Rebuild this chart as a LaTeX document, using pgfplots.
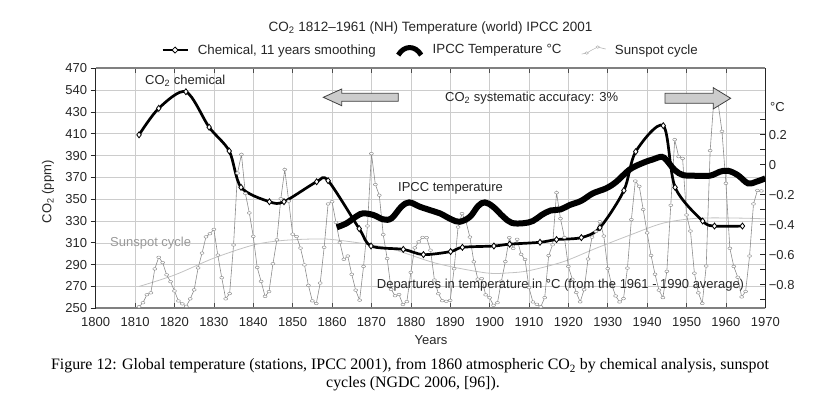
\documentclass[border=0pt]{standalone}
\usepackage{fontspec}
\setmainfont{Liberation Sans}
\newfontfamily\capfont{Liberation Serif}
\usepackage{pgfplots}
\pgfplotsset{compat=1.18}
\usepackage{pgfplotstable}

\definecolor{gridgray}{gray}{0.80}
\definecolor{framegray}{gray}{0.50}
\definecolor{sungray}{gray}{0.55}
\definecolor{trendgray}{gray}{0.76}
\definecolor{arrowfill}{gray}{0.80}

\pgfplotstableread{
Y S
1811 1.4
1812 5.0
1813 12.2
1814 13.9
1815 35.4
1816 45.8
1817 41.1
1818 30.1
1819 23.9
1820 15.6
1821 6.6
1822 4.0
1823 1.8
1824 8.5
1825 16.6
1826 36.3
1827 49.6
1828 64.2
1829 67.0
1830 70.9
1831 47.8
1832 27.5
1833 8.5
1834 13.2
1835 56.9
1836 121.5
1837 138.3
1838 103.2
1839 85.7
1840 64.6
1841 36.7
1842 24.2
1843 10.7
1844 15.0
1845 40.1
1846 61.5
1847 98.5
1848 124.7
1849 96.3
1850 66.6
1851 64.5
1852 54.1
1853 39.0
1854 20.6
1855 6.7
1856 4.3
1857 22.7
1858 54.8
1859 93.8
1860 95.8
1861 77.2
1862 59.1
1863 44.0
1864 47.0
1865 30.5
1866 16.3
1867 7.3
1868 37.6
1869 74.0
1870 139.0
1871 111.2
1872 101.6
1873 66.2
1874 44.7
1875 17.0
1876 11.3
1877 12.4
1878 3.4
1879 6.0
1880 32.3
1881 54.3
1882 59.7
1883 63.7
1884 63.5
1885 52.2
1886 25.4
1887 13.1
1888 6.8
1889 6.3
1890 7.1
1891 35.6
1892 73.0
1893 85.1
1894 78.0
1895 64.0
1896 41.8
1897 26.2
1898 26.7
1899 12.1
1900 9.5
1901 2.7
1902 5.0
1903 24.4
1904 42.0
1905 63.5
1906 53.8
1907 62.0
1908 48.5
1909 43.9
1910 18.6
1911 5.7
1912 3.6
1913 1.4
1914 9.6
1915 47.4
1916 57.1
1917 103.9
1918 80.6
1919 63.6
1920 37.6
1921 26.1
1922 14.2
1923 5.8
1924 16.7
1925 44.3
1926 63.9
1927 69.0
1928 77.8
1929 64.9
1930 35.7
1931 21.2
1932 11.1
1933 5.7
1934 8.7
1935 36.1
1936 79.7
1937 114.4
1938 109.6
1939 88.8
1940 67.8
1941 47.5
1942 30.6
1943 16.3
1944 9.6
1945 33.2
1946 92.6
1947 151.6
1948 136.3
1949 134.7
1950 83.9
1951 69.4
1952 31.5
1953 13.9
1954 4.4
1955 38.0
1956 141.7
1957 190.2
1958 184.8
1959 159.0
1960 112.3
1961 53.9
1962 37.6
1963 27.9
1964 10.2
1965 15.1
1966 47.0
1967 93.8
1968 105.9
1969 105.5
}\sunspot

\pgfplotstableread{
Y V
1811 270
1820 280.5
1830 296
1840 308
1847 312
1855 313.5
1861 312.7
1874 305.5
1886.5 291.2
1899 282.5
1905 282.5
1910 284.5
1918.7 292.7
1927 305
1935.7 317.2
1944 328
1952.6 332.5
1963 332.7
1970 332
}\trend

\pgfplotstableread{
Y C
1811 409
1816 433.3
1822.9 448.5
1828.8 416
1833.9 394.2
1836.9 360.9
1844.1 347.7
1847.8 347.7
1856.1 366
1859 367
1866.9 323
1869.9 307.1
1878.1 304
1883.2 299.2
1890.1 302
1893.1 305.9
1901.1 307.1
1905.1 308.8
1912.8 310.5
1917 313
1923.3 314.8
1928 323.9
1934.1 358
1937.1 393.6
1944.1 417.4
1947.1 360.9
1954.1 330
1957.1 325.4
1964.2 325.4
}\chem

\pgfplotstableread{
Y T
1861.2 -0.417
1863.7 -0.39
1866.3 -0.342
1867.9 -0.324
1870.5 -0.335
1873 -0.364
1875.1 -0.357
1877.6 -0.28
1879.6 -0.251
1882.3 -0.28
1885.3 -0.306
1887.4 -0.324
1890.3 -0.364
1892.4 -0.38
1895 -0.347
1897.1 -0.275
1898.8 -0.251
1900.9 -0.28
1903.5 -0.347
1905.6 -0.387
1908.5 -0.39
1911 -0.375
1913.2 -0.335
1915.5 -0.305
1918 -0.298
1920.3 -0.269
1923.3 -0.24
1926.2 -0.191
1929.6 -0.157
1932.2 -0.113
1935.6 -0.031
1939 0.013
1941.5 0.036
1943.7 0.053
1944.9 0.031
1947 -0.035
1949.1 -0.069
1951.7 -0.073
1955.9 -0.073
1958.4 -0.047
1960.5 -0.04
1963 -0.069
1965.6 -0.124
1967.7 -0.113
1970 -0.091
}\ipcc

\pgfplotsset{/pgf/number format/assume math mode=true}

\begin{document}
\begin{tikzpicture}
\path[use as bounding box] (0pt,0pt) rectangle (824pt,398pt);

\begin{axis}[
  at={(95.7pt,89.7pt)}, anchor=south west,
  scale only axis, width=669.6pt, height=240pt,
  xmin=1800, xmax=1970, ymin=250, ymax=470,
  xtick={1800,1810,...,1970},
  ytick={250,270,...,470},
  yticklabels={250,270,290,310,330,350,370,390,410,430,540,470},
  xticklabel style={/pgf/number format/1000 sep={}, yshift=-6pt},
  ticklabel style={font=\fontsize{13}{15}\selectfont, text=black!85},
  grid=major, major grid style={gridgray, line width=0.6pt},
  axis x line=box, axis y line*=left,
  x axis line style={framegray, line width=1.8pt, -},
  y axis line style={black!85, line width=0.8pt, -},
  xtick align=inside, ytick align=outside,
  major tick length=5pt,
  x tick style={black!70, line width=0.6pt},
  y tick style={black!85, line width=0.8pt},
  legend columns=3,
  legend style={draw=none, fill=none, at={(0.5,1.076)}, anchor=center,
    font=\fontsize{13.3}{15}\selectfont, text=black!85,
    /tikz/every odd column/.append style={column sep=7pt},
    /tikz/every even column/.append style={column sep=18pt}},
]
\addlegendimage{legend image code/.code={
  \draw[black, line width=2.6pt] (0pt,0pt) -- (25pt,0pt);
  \draw[black, fill=white, line width=0.8pt] (12.5pt,3pt) -- (15.5pt,0pt) -- (12.5pt,-3pt) -- (9.5pt,0pt) -- cycle;}}
\addlegendentry{Chemical, 11 years smoothing}
\addlegendimage{legend image code/.code={
  \draw[black, line width=5pt] (1pt,-5pt) .. controls (7pt,5pt) and (18pt,5pt) .. (24pt,-5pt);}}
\addlegendentry{IPCC Temperature °C}
\addlegendimage{legend image code/.code={
  \draw[sungray!70, line width=0.5pt] (0pt,-4pt) -- (5pt,-3pt) -- (10pt,0pt) -- (16pt,3pt) -- (24pt,1pt);
  \draw[sungray!70, fill=white, line width=0.5pt] (5pt,-3pt) ellipse (1.8pt and 1.3pt);
  \draw[sungray!70, fill=white, line width=0.5pt] (16pt,3pt) ellipse (1.8pt and 1.3pt);}}
\addlegendentry{Sunspot cycle}

\addplot[trendgray, line width=0.8pt, smooth, forget plot] table[x=Y, y=V] {\trend};
\addplot[sungray, line width=0.6pt, mark=*, mark size=1.6pt,
  mark options={fill=white, draw=sungray, line width=0.45pt, xscale=1.25, yscale=0.8}, forget plot]
  table[x=Y, y expr=250+1.02*\thisrow{S}] {\sunspot};
\addplot[black, line width=2.7pt, smooth, tension=0.5, mark=diamond*, mark size=3pt,
  mark options={fill=white, draw=black, line width=0.8pt, solid}, forget plot]
  table[x=Y, y=C] {\chem};
\end{axis}

\begin{axis}[
  at={(95.7pt,89.7pt)}, anchor=south west,
  scale only axis, width=669.6pt, height=240pt,
  xmin=1800, xmax=1970, ymin=-0.957, ymax=0.643,
  axis x line=none, axis y line*=right,
  y axis line style={black!85, line width=0.8pt, -},
  ytick={-0.8,-0.6,-0.4,-0.2,0,0.2},
  yticklabels={−0.8,−0.6,−0.4,−0.2,0,0.2},
  minor ytick={-0.9,-0.7,-0.5,-0.3,-0.1,0.1,0.3},
  ytick align=inside,
  major tick length=5pt, minor tick length=5pt,
  y tick style={black!85, line width=0.8pt},
  minor y tick style={black!85, line width=0.8pt},
  ticklabel style={font=\fontsize{13}{15}\selectfont, text=black!85},
]
\addplot[black, line width=6pt, smooth, tension=0.6] table[x=Y, y=T] {\ipcc};
\end{axis}

% arrows
\draw[black!75, fill=arrowfill, line width=0.8pt, line join=miter]
  (323.3pt,300.7pt) -- (341.7pt,309pt) -- (341.7pt,304.7pt) -- (398.3pt,304.7pt)
  -- (398.3pt,296.7pt) -- (341.7pt,296.7pt) -- (341.7pt,292.3pt) -- cycle;
\draw[black!75, fill=arrowfill, line width=0.8pt, line join=miter]
  (730.7pt,299.7pt) -- (713.3pt,310.3pt) -- (713.3pt,304.7pt) -- (665pt,304.7pt)
  -- (665pt,294.7pt) -- (713.3pt,294.7pt) -- (713.3pt,289.1pt) -- cycle;

% texts
\begin{scope}[every node/.style={inner sep=0pt, text=black!85, font=\fontsize{13}{15}\selectfont}]
\node[font=\fontsize{13.5}{15}\selectfont] at (430.5pt,370pt) {CO\textsubscript{2} 1812–1961 (NH) Temperature (world) IPCC 2001};
\node[anchor=west] at (145pt,317pt) {CO\textsubscript{2} chemical};
\node[anchor=west] at (445pt,299.7pt) {CO\textsubscript{2} systematic accuracy: 3\%};
\node[anchor=west] at (398pt,210pt) {IPCC temperature};
\node[anchor=west, text=black!40] at (110pt,155pt) {Sunspot cycle};
\node[anchor=west] at (376.7pt,113pt) {Departures in temperature in °C (from the 1961 - 1990 average)};
\node[anchor=west] at (770pt,291.3pt) {°C};
\node[rotate=90] at (48pt,206.3pt) {CO\textsubscript{2} (ppm)};
\node at (431pt,58pt) {Years};
\end{scope}
\begin{scope}[every node/.style={inner sep=0pt, text=black, font=\capfont\fontsize{15.9}{18}\selectfont}]
\node at (410pt,32.3pt) {Figure 12: Global temperature (stations, IPCC 2001), from 1860 atmospheric CO\textsubscript{2} by chemical analysis, sunspot};
\node at (413pt,14pt) {cycles (NGDC 2006, [96]).};
\end{scope}
\end{tikzpicture}
\end{document}
